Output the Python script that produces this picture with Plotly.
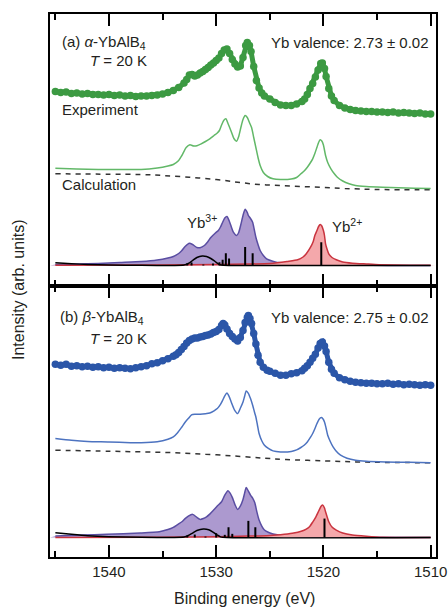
import plotly.graph_objects as go

# ---------------- panel (a): alpha-YbAlB4 ----------------
exp_a_E = [1545.0, 1544.5, 1544.0, 1543.5, 1543.0, 1542.5, 1542.0, 1541.5, 1541.0, 1540.5,
           1540.0, 1539.5, 1539.0, 1538.5, 1538.0, 1537.5, 1537.0, 1536.5, 1536.0, 1535.5,
           1535.0, 1534.5, 1534.0, 1533.5, 1533.0, 1532.75, 1532.5, 1532.25, 1532.0, 1531.75,
           1531.5, 1531.25, 1531.0, 1530.75, 1530.5, 1530.25, 1530.0, 1529.75, 1529.5, 1529.25,
           1529.0, 1528.75, 1528.5, 1528.25, 1528.0, 1527.75, 1527.5, 1527.25, 1527.1, 1526.9,
           1526.75, 1526.5, 1526.25, 1526.0, 1525.75, 1525.5, 1525.0, 1524.5, 1524.0, 1523.5,
           1523.0, 1522.5, 1522.0, 1521.75, 1521.5, 1521.25, 1521.0, 1520.75, 1520.5, 1520.25,
           1520.1, 1519.9, 1519.75, 1519.5, 1519.25, 1519.0, 1518.5, 1518.0, 1517.5, 1517.0,
           1516.5, 1516.0, 1515.5, 1515.0, 1514.5, 1514.0, 1513.5, 1513.0, 1512.5, 1512.0,
           1511.5, 1511.0, 1510.5, 1510.0]
exp_a_I = [194, 193, 193.5, 192, 192.5, 191.5, 192, 191, 191, 190.5,
           191, 190, 190.5, 189.5, 190, 189, 189.5, 189.5, 190, 190.5,
           191.5, 193, 195, 198, 202.5, 206, 210.5, 211, 209.5, 210.5,
           212.5, 214, 216, 218, 220.5, 222.5, 225, 227.5, 232, 235.5,
           236.5, 232, 226, 221.5, 218.5, 219.5, 228, 240, 243, 240,
           234, 219, 205, 197.5, 192.5, 189.5, 186.5, 183, 180.5, 180,
           180, 181.5, 184, 186.5, 191, 197, 202, 208.5, 215.5, 222,
           222.5, 217, 209, 197, 189.5, 185, 180, 177.5, 176, 175,
           174.5, 174, 174, 173.5, 173.5, 173, 173.5, 172.5, 173, 172.5,
           172, 172.5, 171.5, 171.5]

calc_a_E = [1545.0, 1543.0, 1541.0, 1539.0, 1537.0, 1535.5, 1534.5, 1534.0, 1533.5, 1533.2,
            1532.8, 1532.45, 1532.1, 1531.8, 1531.4, 1531.0, 1530.6, 1530.2, 1529.9, 1529.7,
            1529.5, 1529.3, 1529.1, 1528.9, 1528.6, 1528.35, 1528.1, 1527.9, 1527.7, 1527.5,
            1527.3, 1527.1, 1526.9, 1526.7, 1526.5, 1526.3, 1526.1, 1525.9, 1525.6, 1525.2,
            1524.7, 1524.0, 1523.0, 1522.5, 1522.1, 1521.8, 1521.5, 1521.2, 1521.0, 1520.8,
            1520.6, 1520.45, 1520.3, 1520.15, 1520.0, 1519.8, 1519.6, 1519.3, 1519.0, 1518.7,
            1518.2, 1517.6, 1517.0, 1516.0, 1514.5, 1513.0, 1511.5, 1510.0]
calc_a_I = [117.3, 116.5, 116, 116, 116, 117.5, 119.5, 121, 125, 130,
            138, 140.7, 139.5, 139.8, 141.7, 144, 146.7, 150, 152.5, 155,
            160.5, 165, 166.7, 162, 154, 147, 144.3, 149, 158, 166,
            170, 168, 163, 158, 148, 138, 128, 120, 113, 109,
            106.7, 106, 106.5, 108, 111.7, 114.5, 118.3, 123, 126.7, 132,
            138.3, 143, 145.7, 144.5, 140.5, 130, 123, 116.7, 112, 108.3,
            104.5, 101.7, 100, 99, 98.2, 97.7, 97.3, 97]

bg_a_E = [1545.0, 1540.0, 1537.0, 1535.0, 1532.5, 1530.0, 1528.0, 1526.0, 1524.0, 1522.0,
          1520.0, 1518.0, 1515.0, 1510.0]
bg_a_I = [111.7, 111.3, 111, 110, 108.3, 106, 103.3, 101, 100, 99,
          98, 97, 96, 95.7]

yb3_a_E = [1545.0, 1543.0, 1541.0, 1539.0, 1537.0, 1535.5, 1534.5, 1534.0, 1533.5, 1533.2,
           1532.9, 1532.5, 1532.2, 1531.8, 1531.5, 1531.1, 1530.8, 1530.5, 1530.1, 1529.8,
           1529.6, 1529.4, 1529.2, 1529.0, 1528.8, 1528.6, 1528.4, 1528.1, 1527.9, 1527.7,
           1527.5, 1527.3, 1527.1, 1527.0, 1526.8, 1526.6, 1526.45, 1526.3, 1526.1, 1525.9,
           1525.6, 1525.3, 1524.8, 1524.4, 1523.2, 1522.0, 1520.0, 1517.0, 1514.0, 1510.0]
yb3_a_I = [21, 21.5, 22, 23, 24, 25.5, 27.5, 29, 32, 35,
           39, 42.3, 41, 38, 37.8, 40, 43.5, 48, 52.3, 55,
           58.5, 63.3, 67.5, 69, 65, 59, 53.3, 50, 53, 61,
           70, 76.3, 73, 70, 67, 63.3, 56, 48.3, 41, 35,
           30, 26.7, 24.5, 23.3, 22.3, 21.5, 20.8, 20.3, 20.1, 20]

yb2_a_E = [1545.0, 1535.0, 1530.0, 1527.0, 1525.0, 1524.3, 1523.4, 1522.4, 1521.9, 1521.6,
           1521.2, 1520.95, 1520.8, 1520.6, 1520.45, 1520.3, 1520.15, 1520.0, 1519.9, 1519.8,
           1519.65, 1519.5, 1519.2, 1518.8, 1518.2, 1517.3, 1516.0, 1514.8, 1512.0, 1510.0]
yb2_a_I = [20.2, 20.5, 21, 21.5, 22, 22.7, 24, 25.7, 28.5, 31.7,
           38.3, 44, 50, 55, 59, 61, 59.5, 55, 50, 41.7,
           36, 31.7, 28, 25.7, 23.5, 22.3, 21.5, 20.8, 20.3, 20.2]

broad_a_E = [1545.0, 1543.5, 1542.0, 1540.0, 1537.0, 1534.0, 1533.0, 1532.6, 1532.2, 1531.8,
             1531.3, 1530.9, 1530.5, 1530.1, 1529.7, 1529.3, 1527.0, 1510.0]
broad_a_I = [22.7, 21.8, 21, 20.5, 20.2, 20.1, 20.5, 22, 25, 28,
             29.5, 29, 27, 24, 21, 20.2, 20, 20]

stick_a_E = [1532.7, 1532.3, 1531.2, 1530.3, 1529.7, 1529.4, 1529.1, 1528.8, 1527.3, 1526.6, 1520.2]
stick_a_H = [2.3, 3, 1, 2, 3.3, 5.7, 12.3, 7, 18.5, 12.3, 23.3]
base_a = 20

# ---------------- panel (b): beta-YbAlB4 ----------------
exp_b_E = [1545.0, 1544.5, 1544.0, 1543.5, 1543.0, 1542.5, 1542.0, 1541.5, 1541.0, 1540.5,
           1540.0, 1539.5, 1539.0, 1538.5, 1538.0, 1537.5, 1537.0, 1536.5, 1536.0, 1535.5,
           1535.0, 1534.5, 1534.0, 1533.75, 1533.5, 1533.25, 1533.0, 1532.75, 1532.5, 1532.25,
           1532.0, 1531.75, 1531.5, 1531.25, 1531.0, 1530.75, 1530.5, 1530.25, 1530.0, 1529.75,
           1529.5, 1529.35, 1529.2, 1529.0, 1528.75, 1528.5, 1528.25, 1528.0, 1527.75, 1527.5,
           1527.3, 1527.1, 1527.0, 1526.85, 1526.7, 1526.5, 1526.3, 1526.1, 1525.9, 1525.6,
           1525.25, 1525.0, 1524.5, 1524.0, 1523.5, 1523.0, 1522.5, 1522.0, 1521.75, 1521.5,
           1521.25, 1521.0, 1520.75, 1520.5, 1520.3, 1520.1, 1519.9, 1519.75, 1519.5, 1519.25,
           1519.0, 1518.5, 1518.0, 1517.5, 1517.0, 1516.5, 1516.0, 1515.5, 1515.0, 1514.5,
           1514.0, 1513.5, 1513.0, 1512.5, 1512.0, 1511.5, 1511.0, 1510.5, 1510.0]
exp_b_I = [193, 192, 193, 191, 191.5, 190.5, 191, 190, 190.5, 189.5,
           190, 189, 189.5, 189, 188.5, 189.5, 190.5, 191.5, 193.5, 194.5,
           196.5, 198.5, 201, 202.5, 205, 208, 211, 214.5, 217, 218.5,
           219.5, 219.5, 220.5, 221, 222, 222.5, 223.5, 225, 226, 228,
           232, 234, 232.5, 228.5, 224, 221, 218.5, 216.5, 220, 227,
           235, 240, 242, 239, 234, 224, 213.5, 202, 195, 190,
           187, 186, 184, 182, 182, 183.5, 184.5, 186.5, 189, 191.5,
           195, 199, 203, 209.5, 214, 215.5, 211.5, 206, 195, 188,
           184, 179.5, 177.5, 176, 175, 174.5, 174, 174, 173.5, 173.5,
           174, 173, 173.5, 172.5, 173, 172.5, 172, 172.5, 172]

calc_b_E = [1545.0, 1543.5, 1542.0, 1540.0, 1538.0, 1537.0, 1535.5, 1534.5, 1534.0, 1533.6,
            1533.2, 1532.9, 1532.6, 1532.3, 1532.0, 1531.5, 1531.0, 1530.6, 1530.2, 1529.9,
            1529.6, 1529.4, 1529.2, 1529.0, 1528.8, 1528.6, 1528.3, 1528.0, 1527.75, 1527.5,
            1527.35, 1527.2, 1527.0, 1526.8, 1526.6, 1526.4, 1526.3, 1526.15, 1526.0, 1525.75,
            1525.5, 1525.1, 1524.7, 1524.0, 1523.0, 1522.5, 1522.1, 1521.8, 1521.5, 1521.2,
            1521.0, 1520.8, 1520.6, 1520.4, 1520.2, 1520.05, 1519.9, 1519.75, 1519.6, 1519.35,
            1519.1, 1518.8, 1518.4, 1517.8, 1517.0, 1516.0, 1514.2, 1512.0, 1510.0]
calc_b_I = [118.7, 117, 115.8, 115.3, 114.5, 114.5, 115.5, 118, 120.3, 124.5,
            130.3, 135, 138.7, 142.3, 143, 143, 143.5, 144.3, 146.5, 148.7,
            153, 157, 161.5, 164.3, 161, 155.3, 147.5, 143.7, 149, 155.3,
            161, 166.3, 164, 158.7, 152, 144, 140.3, 132, 123.7, 116.5,
            112, 108.5, 106.3, 105.3, 105.8, 107.3, 109.7, 112, 115.3, 120,
            123.7, 128.5, 133.7, 138, 139.7, 138.5, 135.3, 129, 122, 115.5,
            110.3, 106, 102, 99, 97, 96, 95.3, 94.8, 94.3]

bg_b_E = [1545.0, 1540.0, 1537.0, 1534.0, 1531.0, 1528.0, 1525.5, 1523.5, 1520.0, 1517.0,
          1514.0, 1510.0]
bg_b_I = [107, 106, 105.3, 104.5, 103, 101, 99, 97.7, 96.3, 95.3,
          94.7, 94.5]

yb3_b_E = [1545.0, 1542.5, 1540.2, 1537.1, 1535.3, 1534.5, 1534.0, 1533.6, 1533.2, 1532.9,
           1532.6, 1532.2, 1531.8, 1531.5, 1531.2, 1530.9, 1530.6, 1530.3, 1529.9, 1529.5,
           1529.2, 1528.9, 1528.7, 1528.5, 1528.25, 1528.0, 1527.75, 1527.5, 1527.35, 1527.2,
           1527.0, 1526.8, 1526.6, 1526.4, 1526.2, 1526.0, 1525.75, 1525.5, 1525.1, 1524.7,
           1523.5, 1522.0, 1518.0, 1510.0]
yb3_b_I = [21, 22, 22.7, 24, 25.3, 27.5, 29.7, 32.5, 35.3, 38.5,
           41, 42.7, 39.7, 37.7, 38.5, 40.3, 43, 46.3, 51, 55.3,
           62, 66.3, 64, 59.7, 52.5, 47.7, 51, 57.7, 64, 69.7,
           66, 62, 59, 54.3, 45, 37, 31, 27, 24.5, 23,
           21, 20.3, 19.7, 19.5]

yb2_b_E = [1545.0, 1535.0, 1530.0, 1527.0, 1525.3, 1524.0, 1522.9, 1522.0, 1521.6, 1521.3,
           1521.0, 1520.7, 1520.4, 1520.2, 1520.05, 1519.9, 1519.8, 1519.65, 1519.5, 1519.2,
           1518.8, 1518.2, 1517.3, 1516.0, 1514.5, 1510.0]
yb2_b_I = [19.6, 19.8, 20.3, 21, 21.3, 22.3, 23.7, 26, 28, 30.3,
           35, 40.3, 47, 51, 52, 49, 45.3, 40, 35.3, 30,
           27, 24, 22, 20.8, 19.8, 19.6]

broad_b_E = [1545.0, 1543.5, 1542.0, 1540.0, 1537.0, 1534.0, 1533.0, 1532.6, 1532.2, 1531.8,
             1531.2, 1530.7, 1530.3, 1529.9, 1529.6, 1529.0, 1510.0]
broad_b_I = [24.3, 22.7, 21.3, 20.3, 19.8, 19.6, 20, 21.5, 24, 26.5,
             28, 27.3, 25, 22, 20.2, 19.5, 19.5]

stick_b_E = [1532.7, 1532.0, 1531.0, 1530.0, 1529.2, 1528.85, 1528.5, 1527.0, 1526.35, 1519.9]
stick_b_H = [2, 3, 1, 4.3, 2.7, 10.3, 3.7, 16.7, 10.3, 19]
base_b = 19.5

# axis ticks
major_ticks = [1540, 1530, 1520, 1510]
major_labels = ["1540", "1530", "1520", "1510"]
minor_ticks = [1545, 1535, 1525, 1515]

X_RANGE = [1545.5, 1509.5]
TXT = "#231f20"
FONT = "Liberation Sans, Arial, Helvetica, sans-serif"

GREEN_EXP = "#3c9a42"
GREEN_CALC = "#62b868"
BLUE_EXP = "#2b56a8"
BLUE_CALC = "#4d73c0"
PURPLE_LINE = "#5a4ea2"
PURPLE_FILL = "#ac99cf"
RED_LINE = "#c9343f"
RED_FILL = "#f4a8ab"

fig = go.Figure()


def sticks(E, H, base):
    xs, ys = [], []
    for e, h in zip(E, H):
        xs += [e, e, None]
        ys += [base, base + h, None]
    return xs, ys


def add_panel(xa, ya, exp_E, exp_I, exp_col, calc_E, calc_I, calc_col, bg_E, bg_I,
              y3_E, y3_I, y2_E, y2_I, br_E, br_I, st_E, st_H, base):
    common = dict(xaxis=xa, yaxis=ya, showlegend=False, hoverinfo="skip")
    # Yb3+ component
    fig.add_trace(go.Scatter(x=[X_RANGE[0], X_RANGE[1]], y=[base, base], mode="lines",
                             line=dict(width=0, color="rgba(0,0,0,0)"), **common))
    fig.add_trace(go.Scatter(x=y3_E, y=y3_I, mode="lines", fill="tonexty",
                             fillcolor=PURPLE_FILL,
                             line=dict(color=PURPLE_LINE, width=1.5, shape="spline", smoothing=0.6),
                             **common))
    # Yb2+ component
    fig.add_trace(go.Scatter(x=[X_RANGE[0], X_RANGE[1]], y=[base, base], mode="lines",
                             line=dict(width=0, color="rgba(0,0,0,0)"), **common))
    fig.add_trace(go.Scatter(x=y2_E, y=y2_I, mode="lines", fill="tonexty",
                             fillcolor=RED_FILL,
                             line=dict(color=RED_LINE, width=1.5, shape="spline", smoothing=0.6),
                             **common))
    # broad black component / baseline
    fig.add_trace(go.Scatter(x=br_E, y=br_I, mode="lines",
                             line=dict(color="black", width=1.5, shape="spline", smoothing=0.6),
                             **common))
    # stick spectrum
    sx, sy = sticks(st_E, st_H, base)
    fig.add_trace(go.Scatter(x=sx, y=sy, mode="lines",
                             line=dict(color="black", width=2), **common))
    # background (dashed)
    fig.add_trace(go.Scatter(x=bg_E, y=bg_I, mode="lines",
                             line=dict(color="#333333", width=1.5, dash="5px,5px", shape="spline"),
                             **common))
    # calculated spectrum
    fig.add_trace(go.Scatter(x=calc_E, y=calc_I, mode="lines",
                             line=dict(color=calc_col, width=1.5, shape="spline", smoothing=0.6),
                             **common))
    # experimental spectrum
    fig.add_trace(go.Scatter(x=exp_E, y=exp_I, mode="lines+markers",
                             line=dict(color=exp_col, width=5),
                             marker=dict(color=exp_col, size=7.5, line=dict(width=0)),
                             **common))


add_panel("x2", "y2", exp_a_E, exp_a_I, GREEN_EXP, calc_a_E, calc_a_I, GREEN_CALC,
          bg_a_E, bg_a_I, yb3_a_E, yb3_a_I, yb2_a_E, yb2_a_I, broad_a_E, broad_a_I,
          stick_a_E, stick_a_H, base_a)
add_panel("x", "y", exp_b_E, exp_b_I, BLUE_EXP, calc_b_E, calc_b_I, BLUE_CALC,
          bg_b_E, bg_b_I, yb3_b_E, yb3_b_I, yb2_b_E, yb2_b_I, broad_b_E, broad_b_I,
          stick_b_E, stick_b_H, base_b)

xcommon = dict(range=X_RANGE, autorange=False, automargin=False,
               tickmode="array", tickvals=major_ticks,
               ticks="inside", ticklen=12, tickwidth=2, tickcolor="black",
               showline=True, linewidth=2, linecolor="black", mirror="ticks",
               showgrid=False, zeroline=False,
               minor=dict(tickmode="array", tickvals=minor_ticks,
                          ticks="inside", ticklen=6, tickwidth=2, tickcolor="black",
                          showgrid=False))
ycommon = dict(showticklabels=False, ticks="", showline=True, linewidth=2,
               linecolor="black", mirror=True, showgrid=False, zeroline=False,
               automargin=False)

fig.update_layout(
    width=448, height=607,
    margin=dict(l=50, r=12, t=14, b=50, autoexpand=False),
    paper_bgcolor="white", plot_bgcolor="white",
    font=dict(family=FONT, color=TXT, size=15),
    xaxis=dict(domain=[0, 1], anchor="y", ticktext=major_labels,
               tickfont=dict(size=15, color=TXT), **xcommon),
    xaxis2=dict(domain=[0, 1], anchor="y2", matches="x", showticklabels=False, **xcommon),
    yaxis=dict(domain=[0, 0.5], range=[0, 272], **ycommon),
    yaxis2=dict(domain=[0.5, 1], range=[0, 271.5], **ycommon),
)


def px_x(px):
    return (px - 50) / 386


def px_y(py):
    return (557 - py) / 543


ann = [
    ("(a) <i>α</i>-YbAlB<sub>4</sub>", 60, 43, "left"),
    ("<i>T</i> = 20 K", 118, 60, "center"),
    ("Yb valence: 2.73 ± 0.02", 431, 43, "right"),
    ("Experiment", 60, 109, "left"),
    ("Calculation", 60, 184, "left"),
    ("Yb<sup>3+</sup>", 185, 221, "left"),
    ("Yb<sup>2+</sup>", 330, 225, "left"),
    ("(b) <i>β</i>-YbAlB<sub>4</sub>", 58, 317, "left"),
    ("<i>T</i> = 20 K", 118, 338, "center"),
    ("Yb valence: 2.75 ± 0.02", 431, 317, "right"),
]
for text, x, y, anchor in ann:
    fig.add_annotation(text=text, x=px_x(x), y=px_y(y), xref="paper", yref="paper",
                       xanchor=anchor, yanchor="middle", showarrow=False,
                       font=dict(size=15, color=TXT, family=FONT))

fig.add_annotation(text="Intensity (arb. units)", x=px_x(18), y=px_y(290),
                   xref="paper", yref="paper", textangle=-90, showarrow=False,
                   xanchor="center", yanchor="middle",
                   font=dict(size=16, color=TXT, family=FONT))
fig.add_annotation(text="Binding energy (eV)", x=px_x(244), y=px_y(598),
                   xref="paper", yref="paper", showarrow=False,
                   xanchor="center", yanchor="middle",
                   font=dict(size=16, color=TXT, family=FONT))

fig.write_html("out.html")
